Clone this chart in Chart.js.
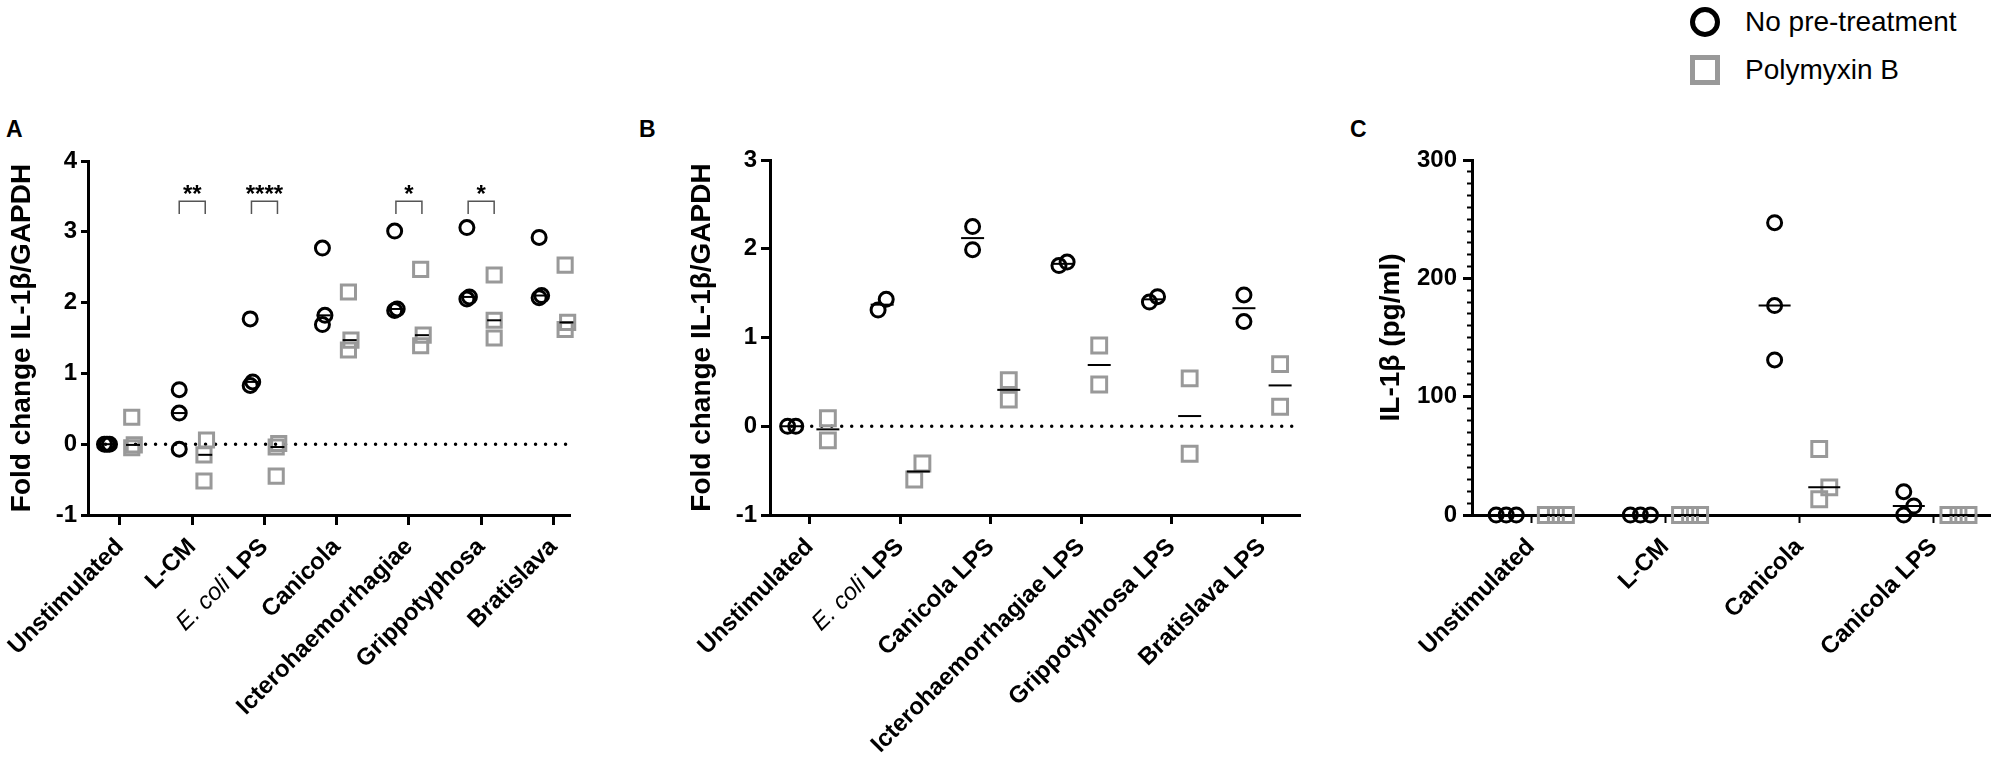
<!DOCTYPE html>
<html>
<head>
<meta charset="utf-8">
<script src="https://cdn.jsdelivr.net/npm/chart.js@4.4.1/dist/chart.umd.min.js"></script>
<style>
  body { margin: 0; width: 2008px; height: 784px; background: #fff; position: relative; overflow: hidden;
         font-family: "Liberation Sans", Arial, sans-serif; color: #000; }
  canvas { position: absolute; top: 100px; }
  .panel { position: absolute; font-weight: bold; font-size: 23px; line-height: 23px; }
  .leg { position: absolute; left: 1745px; font-size: 28px; line-height: 28px; white-space: nowrap; }
  .mk { position: absolute; left: 1690px; width: 20px; height: 20px; border: 5px solid #000; }
</style>
</head>
<body>
<div class="panel" style="left:6px;top:118px">A</div>
<div class="panel" style="left:639px;top:118px">B</div>
<div class="panel" style="left:1350px;top:118px">C</div>

<div class="mk" style="top:7px;border-radius:50%"></div>
<div class="leg" style="top:8px">No pre-treatment</div>
<div class="mk" style="top:55px;border-color:#999"></div>
<div class="leg" style="top:56px">Polymyxin B</div>

<canvas id="chartA" width="600" height="684" style="left:0"></canvas>
<canvas id="chartB" width="730" height="684" style="left:600px"></canvas>
<canvas id="chartC" width="678" height="684" style="left:1330px"></canvas>

<script>
const FONT = '"Liberation Sans", Arial, sans-serif';

// A: fold change IL-1b/GAPDH, whole bacteria
const catA = ['Unstimulated', 'L-CM', 'E. coli LPS', 'Canicola', 'Icterohaemorrhagiae', 'Grippotyphosa', 'Bratislava'];
const noPreA = [[0, 0, 0], [0.77, 0.44, -0.07], [1.77, 0.88, 0.83], [2.77, 1.82, 1.69],
                [3.01, 1.91, 1.89], [3.06, 2.08, 2.05], [2.92, 2.1, 2.07]];
const polyA = [[0.38, -0.01, -0.05], [0.06, -0.15, -0.52], [0.01, -0.04, -0.45], [2.15, 1.47, 1.33],
               [2.47, 1.54, 1.39], [2.39, 1.75, 1.5], [2.53, 1.72, 1.62]];
const ticksA = [-1, 0, 1, 2, 3, 4];
const sigGroupsA = [1, 2, 4, 5];
const sigMarksA = ['**', '****', '*', '*'];

// B: fold change, LPS preparations
const catB = ['Unstimulated', 'E. coli LPS', 'Canicola LPS', 'Icterohaemorrhagiae LPS', 'Grippotyphosa LPS', 'Bratislava LPS'];
const noPreB = [[0, 0], [1.31, 1.43], [2.25, 1.99], [1.81, 1.85], [1.4, 1.46], [1.48, 1.18]];
const polyB = [[0.09, -0.16], [-0.42, -0.6], [0.52, 0.3], [0.91, 0.47], [0.54, -0.31], [0.7, 0.22]];
const ticksB = [-1, 0, 1, 2, 3];

// C: IL-1b protein (pg/ml)
const catC = ['Unstimulated', 'L-CM', 'Canicola', 'Canicola LPS'];
const noPreC = [[0, 0, 0], [0, 0, 0], [247, 177, 131], [19.7, 7.6, 0]];
const polyC = [[0, 0, 0], [0, 0, 0], [55.8, 13.3, 23.4], [0, 0, 0]];
const ticksC = [0, 100, 200, 300];
const minorTicksC = Array.from({length: 31}, (_, i) => i * 10);

const rich = c => c.startsWith('E. coli ');

function median(a) {
  const s = [...a].sort((p, q) => p - q), m = s.length >> 1;
  return s.length % 2 ? s[m] : (s[m - 1] + s[m]) / 2;
}

// side-by-side slots for points that would sit on top of each other
function spread(vals, near) {
  const order = vals.map((v, i) => i).sort((a, b) => vals[a] - vals[b]);
  const slots = new Array(vals.length), placed = [];
  order.forEach(i => {
    for (let k = 0; ; k++) {
      const s = k === 0 ? 0 : (k % 2 ? (k + 1) / 2 : -k / 2);
      if (!placed.some(p => p.s === s && Math.abs(p.v - vals[i]) < near)) {
        slots[i] = s; placed.push({s, v: vals[i]}); break;
      }
    }
  });
  const shift = (Math.max(...slots) + Math.min(...slots)) / 2;
  return slots.map(s => s - shift);
}

function points(groups, side, near, step) {
  const out = [];
  groups.forEach((vals, g) => {
    const sl = spread(vals, near);
    vals.forEach((v, i) => out.push({x: g + side + sl[i] * step, y: v}));
  });
  return out;
}

const medians = (groups, side) => groups.map((vals, g) => ({x: g + side, y: median(vals)}));

const extras = {
  id: 'extras',
  beforeDatasetsDraw(chart, args, o) {
    if (o.zeroFrom === undefined) return;
    const {ctx, chartArea, scales: {x, y}} = chart;
    const py = y.getPixelForValue(0);
    ctx.save();
    ctx.strokeStyle = '#000';
    ctx.lineWidth = 3.5;
    ctx.lineCap = 'round';
    ctx.setLineDash([0, 10]);
    ctx.beginPath();
    ctx.moveTo(x.getPixelForValue(o.zeroFrom), py);
    ctx.lineTo(chartArea.right, py);
    ctx.stroke();
    ctx.restore();
  },
  afterDraw(chart, args, o) {
    const {ctx, scales: {x, y}} = chart;
    // "E. coli" in italics, same anchor as the library's rotated labels
    const tl = x.options.grid.tickLength, pad = x.options.ticks.padding, lh = 24 * 1.2;
    o.cats.forEach((c, i) => {
      if (!rich(c)) return;
      const rest = c.slice(7);
      ctx.save();
      ctx.translate(x.getPixelForValue(i) - lh / 2 * Math.SQRT1_2, x.top + tl + pad);
      ctx.rotate(-Math.PI / 4);
      ctx.fillStyle = '#000';
      ctx.textAlign = 'right';
      ctx.textBaseline = 'middle';
      ctx.font = 'bold 24px ' + FONT;
      ctx.fillText(rest, 0, lh / 2);
      const w = ctx.measureText(rest).width;
      ctx.font = 'italic 24px ' + FONT;
      ctx.fillText('E. coli', -w, lh / 2);
      ctx.restore();
    });
    // significance brackets
    (o.sigGroups || []).forEach((g, k) => {
      const x0 = x.getPixelForValue(g - o.side), x1 = x.getPixelForValue(g + o.side);
      const yt = y.getPixelForValue(3.43), yl = y.getPixelForValue(3.25);
      ctx.save();
      ctx.strokeStyle = '#555';
      ctx.lineWidth = 1.5;
      ctx.beginPath();
      ctx.moveTo(x0, yl); ctx.lineTo(x0, yt); ctx.lineTo(x1, yt); ctx.lineTo(x1, yl);
      ctx.stroke();
      ctx.fillStyle = '#000';
      ctx.textAlign = 'center';
      ctx.textBaseline = 'alphabetic';
      ctx.font = 'bold 24px ' + FONT;
      ctx.fillText(o.sigMarks[k], (x0 + x1) / 2, y.getPixelForValue(3.62) + 14);
      ctx.restore();
    });
  }
};

function makePanel(id, p) {
  const scales = {
    x: {
      type: 'linear', min: p.xMin, max: p.xMax,
      afterBuildTicks: s => { s.ticks = p.cats.map((c, i) => ({value: i})); },
      afterFit: s => { s.height = p.xHeight; s.paddingLeft = 0; s.paddingRight = 0; },
      border: {display: true, width: 3, color: '#000'},
      grid: {drawOnChartArea: false, drawTicks: true, tickLength: p.xTickLen, tickWidth: p.xTickW, tickColor: '#000'},
      ticks: {autoSkip: false, minRotation: 45, maxRotation: 45, padding: p.xPad, color: '#000',
              font: {family: FONT, size: 24, weight: 'bold'},
              callback: v => (rich(p.cats[v]) ? '' : p.cats[v])}
    },
    y: {
      type: 'linear', position: 'left', weight: 1, min: p.yTicks[0], max: p.yTicks[p.yTicks.length - 1],
      afterBuildTicks: s => { s.ticks = p.yTicks.map(v => ({value: v})); },
      afterFit: s => { s.width = p.yWidth; s.paddingTop = 0; s.paddingBottom = 0; },
      border: {display: true, width: 3, color: '#000'},
      grid: {drawOnChartArea: false, drawTicks: true, tickLength: p.yTickLen, tickWidth: 3, tickColor: '#000'},
      ticks: {padding: p.yPad, color: '#000', font: {family: FONT, size: 24, weight: 'bold'}},
      title: {display: true, text: p.title, color: '#000', font: {family: FONT, size: 28, weight: 'bold'},
              padding: {top: p.titlePad, bottom: 0}}
    }
  };
  if (p.minor) {
    scales.yMinor = {
      type: 'linear', position: 'left', weight: 0, min: p.yTicks[0], max: p.yTicks[p.yTicks.length - 1],
      afterBuildTicks: s => { s.ticks = p.minor.map(v => ({value: v})); },
      afterFit: s => { s.width = 0; s.paddingTop = 0; s.paddingBottom = 0; },
      border: {display: false},
      grid: {drawOnChartArea: false, drawTicks: true, tickLength: 5, tickWidth: 2, tickColor: '#000'},
      ticks: {display: false}
    };
  }
  return new Chart(document.getElementById(id), {
    type: 'scatter',
    data: {
      datasets: [
        {label: 'median', data: medians(p.noPre, -p.side).concat(medians(p.poly, p.side)),
         pointStyle: 'line', pointRadius: p.medR, pointBorderWidth: 2, pointBorderColor: '#000', order: 0, clip: false},
        {label: 'No pre-treatment', data: points(p.noPre, -p.side, p.near, p.step),
         pointStyle: 'circle', pointRadius: 7, pointBorderWidth: 3, pointBorderColor: '#000',
         pointBackgroundColor: 'rgba(0,0,0,0)', order: 1, clip: false},
        {label: 'Polymyxin B', data: points(p.poly, p.side, p.near, p.step),
         pointStyle: 'rect', pointRadius: p.sqR, pointBorderWidth: 3, pointBorderColor: '#999',
         pointBackgroundColor: 'rgba(0,0,0,0)', order: 2, clip: false}
      ]
    },
    options: {
      responsive: false,
      animation: false,
      events: [],
      layout: {padding: {left: 0, top: p.padTop, right: p.padRight, bottom: 0}},
      scales: scales,
      plugins: {
        legend: {display: false},
        tooltip: {enabled: false},
        extras: {cats: p.cats, side: p.side, zeroFrom: p.zeroFrom, sigGroups: p.sigGroups, sigMarks: p.sigMarks}
      }
    },
    plugins: [extras]
  });
}

makePanel('chartA', {
  cats: catA, noPre: noPreA, poly: polyA, yTicks: ticksA, title: 'Fold change IL-1β/GAPDH',
  xMin: -0.443, xMax: 6.23, side: 0.18, near: 0.22, step: 0.035,
  yWidth: 88, xHeight: 269, padTop: 61, padRight: 30, titlePad: 5,
  yTickLen: 7, yPad: 4, xTickLen: 10, xTickW: 3, xPad: 8,
  sqR: 10, medR: 7, zeroFrom: -0.2, sigGroups: sigGroupsA, sigMarks: sigMarksA
});

makePanel('chartB', {
  cats: catB, noPre: noPreB, poly: polyB, yTicks: ticksB, title: 'Fold change IL-1β/GAPDH',
  xMin: -0.44, xMax: 5.42, side: 0.2, near: 0.2, step: 0.09,
  yWidth: 170, xHeight: 269, padTop: 60, padRight: 30, titlePad: 85,
  yTickLen: 9, yPad: 4, xTickLen: 9, xTickW: 3, xPad: 9,
  sqR: 10.5, medR: 11.5, zeroFrom: -0.2
});

makePanel('chartC', {
  cats: catC, noPre: noPreC, poly: polyC, yTicks: ticksC, minor: minorTicksC, title: 'IL-1β (pg/ml)',
  xMin: -0.44, xMax: 3.42, side: 0.185, near: 13, step: 0.075,
  yWidth: 142, xHeight: 269, padTop: 60, padRight: 10, titlePad: 44,
  yTickLen: 9, yPad: 6, xTickLen: 8, xTickW: 2, xPad: 10,
  sqR: 10.5, medR: 16
});
</script>
</body>
</html>
